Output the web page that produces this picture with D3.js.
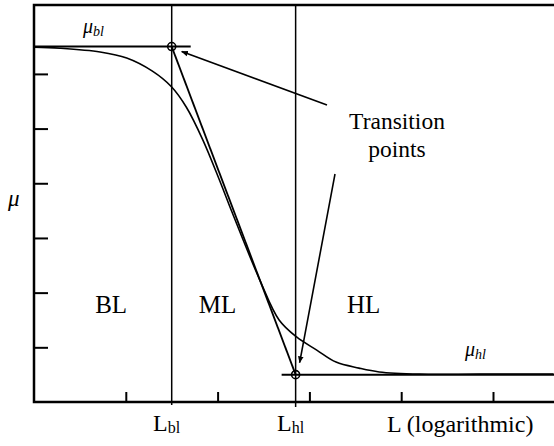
<!DOCTYPE html>
<html>
<head>
<meta charset="utf-8">
<script src="https://cdn.jsdelivr.net/npm/d3@7"></script>
<style>
  body { margin: 0; background: #fff; }
</style>
</head>
<body>
<div id="chart"></div>
<script>
// curve: x in decades of L (log10), y is mu
var curveDecade = [0, 0.28, 0.72, 1.01, 1.29, 1.5, 1.66, 1.84, 2.02, 2.16, 2.46, 2.67, 2.86, 3.08, 3.29, 3.54, 3.76, 4.2, 4.85, 5.66];
var curveMu     = [6.49, 6.47, 6.4, 6.29, 6.05, 5.76, 5.39, 4.79, 4.06, 3.46, 2.23, 1.5, 1.19, 0.95, 0.73, 0.62, 0.55, 0.51, 0.51, 0.51];

// transition points
var transDecade = [1.5, 2.85];
var transMu     = [6.5, 0.5];

var yTicks = [1, 2, 3, 4, 5, 6];
var xTicks = [1e1, 1e2, 1e3, 1e4, 1e5];
var regionLabels = ["BL", "ML", "HL"];
var regionDecade = [0.84, 2.0, 3.59];

var W = 554, H = 446;
var padLeft = 34, padBottom = 402, padTop = 5;
var serif = "'Liberation Serif', 'Times New Roman', Times, serif";

var svg = d3.select("#chart").append("svg")
    .attr("width", W)
    .attr("height", H)
    .attr("font-family", serif);

var x = d3.scaleLog()
    .domain([1, 1e5])
    .range([padLeft, 493]);

var y = d3.scaleLinear()
    .domain([0, 7.26])
    .range([padBottom, padTop]);

var xd = function(d) { return x(Math.pow(10, d)); };

// arrow marker
svg.append("defs").append("marker")
    .attr("id", "arrow")
    .attr("viewBox", "0 0 10 10")
    .attr("refX", 9).attr("refY", 5)
    .attr("markerWidth", 7).attr("markerHeight", 7)
    .attr("markerUnits", "userSpaceOnUse")
    .attr("orient", "auto")
    .append("path")
    .attr("d", "M0,1 L10,5 L0,9 z")
    .attr("fill", "#000");

// ticks
svg.append("g")
    .attr("transform", "translate(" + padLeft + ",0)")
    .call(d3.axisLeft(y).tickValues(yTicks).tickSize(-14).tickFormat(""))
    .call(function(g) { g.select(".domain").remove(); })
    .selectAll("line").attr("stroke", "#000").attr("stroke-width", 2);

svg.append("g")
    .attr("transform", "translate(0," + padBottom + ")")
    .call(d3.axisBottom(x).tickValues(xTicks).tickSize(-10).tickFormat(""))
    .call(function(g) { g.select(".domain").remove(); })
    .selectAll("line").attr("stroke", "#000").attr("stroke-width", 2);

// frame: top, left, bottom
svg.append("path")
    .attr("d", "M" + W + "," + padTop + "H" + padLeft + "V" + padBottom + "H" + W)
    .attr("fill", "none")
    .attr("stroke", "#000")
    .attr("stroke-width", 2.5);

// vertical lines at L_bl and L_hl
svg.selectAll(".vline")
    .data(transDecade)
    .enter().append("line")
    .attr("x1", function(d) { return xd(d); })
    .attr("x2", function(d) { return xd(d); })
    .attr("y1", padTop)
    .attr("y2", function(d, i) { return i == 0 ? padBottom + 3 : padBottom + 5; })
    .attr("stroke", "#000")
    .attr("stroke-width", 1.5);

// horizontal mu_bl and mu_hl lines
svg.append("line")
    .attr("x1", padLeft).attr("x2", xd(transDecade[0]) + 19)
    .attr("y1", y(transMu[0])).attr("y2", y(transMu[0]))
    .attr("stroke", "#000").attr("stroke-width", 2);

svg.append("line")
    .attr("x1", xd(transDecade[1]) - 14).attr("x2", W)
    .attr("y1", y(transMu[1])).attr("y2", y(transMu[1]))
    .attr("stroke", "#000").attr("stroke-width", 2);

// tangent between transition points
svg.append("line")
    .attr("x1", xd(transDecade[0])).attr("y1", y(transMu[0]))
    .attr("x2", xd(transDecade[1])).attr("y2", y(transMu[1]))
    .attr("stroke", "#000").attr("stroke-width", 1.8);

// the curve
var line = d3.line()
    .x(function(d, i) { return xd(curveDecade[i]); })
    .y(function(d) { return y(d); })
    .curve(d3.curveCatmullRom.alpha(0.5));

svg.append("path")
    .datum(curveMu)
    .attr("d", line)
    .attr("fill", "none")
    .attr("stroke", "#000")
    .attr("stroke-width", 1.6);

// circles
svg.selectAll(".pt")
    .data(transDecade)
    .enter().append("circle")
    .attr("cx", function(d) { return xd(d); })
    .attr("cy", function(d, i) { return y(transMu[i]); })
    .attr("r", 4)
    .attr("fill", "none")
    .attr("stroke", "#000")
    .attr("stroke-width", 1.6);

// arrows to the transition points
var labelX = 397;
svg.append("line")
    .attr("x1", 327).attr("y1", 105)
    .attr("x2", xd(transDecade[0]) + 10).attr("y2", y(transMu[0]) + 5)
    .attr("stroke", "#000").attr("stroke-width", 1.6)
    .attr("marker-end", "url(#arrow)");

svg.append("line")
    .attr("x1", 335).attr("y1", 174)
    .attr("x2", xd(transDecade[1]) + 4).attr("y2", y(transMu[1]) - 12)
    .attr("stroke", "#000").attr("stroke-width", 1.6)
    .attr("marker-end", "url(#arrow)");

// texts
svg.append("text")
    .attr("x", labelX).attr("y", 129)
    .attr("text-anchor", "middle")
    .attr("font-size", 23.5)
    .text("Transition");
svg.append("text")
    .attr("x", labelX).attr("y", 157)
    .attr("text-anchor", "middle")
    .attr("font-size", 23.5)
    .text("points");

svg.selectAll(".region")
    .data(regionLabels)
    .enter().append("text")
    .attr("x", function(d, i) { return xd(regionDecade[i]); })
    .attr("y", 313)
    .attr("text-anchor", "middle")
    .attr("font-size", 25)
    .text(function(d) { return d; });

// mu label on y axis
svg.append("text")
    .attr("x", 8).attr("y", 206)
    .attr("font-size", 23)
    .attr("font-style", "italic")
    .text("\u03bc");

function subLabel(px, py, main, sub, italic, size, subSize, shift) {
    var t = svg.append("text")
        .attr("x", px).attr("y", py)
        .attr("font-size", size)
        .attr("font-style", italic ? "italic" : "normal");
    t.append("tspan").text(main);
    t.append("tspan")
        .attr("dy", shift)
        .attr("font-size", subSize)
        .text(sub);
}

subLabel(83, 33, "\u03bc", "bl", true, 20, 14, 3);
subLabel(465, 356, "\u03bc", "hl", true, 20, 14, 3);
subLabel(153, 431, "L", "bl", false, 24, 16, 2);
subLabel(277, 431, "L", "hl", false, 24, 16, 2);

svg.append("text")
    .attr("x", 387).attr("y", 432)
    .attr("font-size", 24)
    .text("L (logarithmic)");
</script>
</body>
</html>
